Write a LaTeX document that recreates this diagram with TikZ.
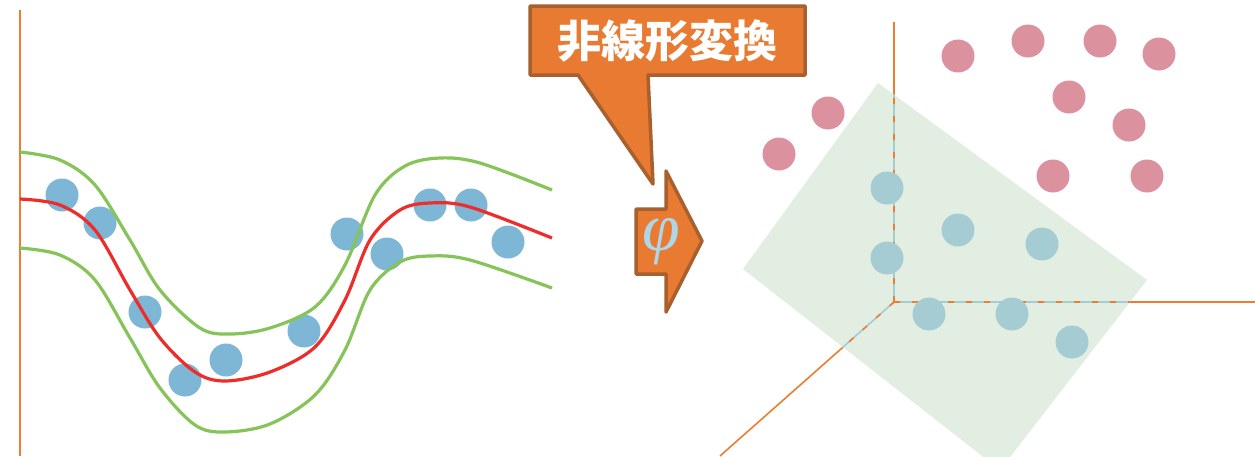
\documentclass[tikz,border=0pt]{standalone}
\usepackage{fontspec}
\newfontfamily\cjk{Noto Sans CJK JP}
\newfontfamily\phifont{Liberation Serif}
\definecolor{axisor}{HTML}{ED7D31}
\definecolor{boxor}{HTML}{E87B31}
\definecolor{boxbr}{HTML}{A8602F}
\definecolor{dotblue}{HTML}{7EB6D6}
\definecolor{dotpink}{HTML}{DB929E}
\definecolor{dotcyan}{HTML}{A5CCD2}
\definecolor{planeg}{HTML}{E3EEE3}
\definecolor{curvegreen}{HTML}{86C45A}
\definecolor{curvered}{HTML}{EE2D2A}
\definecolor{phiblue}{HTML}{AED6EA}
\begin{document}
\begin{tikzpicture}[x=1pt,y=-1pt,
  axisline/.style={draw=axisor, line width=1.6pt},
  bdot/.style={circle, fill=dotblue, minimum size=33pt, inner sep=0pt},
  pdot/.style={circle, fill=dotpink, minimum size=33pt, inner sep=0pt},
  cdot/.style={circle, fill=dotcyan, minimum size=33pt, inner sep=0pt},
  gcurve/.style={draw=curvegreen, line width=3.2pt},
  rcurve/.style={draw=curvered, line width=3.2pt},
  shapeor/.style={fill=boxor, draw=boxbr, line width=3.5pt, line join=round}]
\useasboundingbox (0,0) rectangle (1255,456);
\fill[white] (0,0) rectangle (1255,456);

% ---------- left panel ----------
\coordinate (ltop) at (20,10);
\coordinate (lbot) at (20,456);
\draw[axisline] (ltop) -- (lbot);

\node[bdot] (b1) at (62,195) {};
\node[bdot] (b2) at (100,223) {};
\node[bdot] (b3) at (145,312) {};
\node[bdot] (b4) at (185,380) {};
\node[bdot] (b5) at (226,360) {};
\node[bdot] (b6) at (304,331) {};
\node[bdot] (b7) at (347,234) {};
\node[bdot] (b8) at (387,254) {};
\node[bdot] (b9) at (430,205) {};
\node[bdot] (b10) at (471,205) {};
\node[bdot] (b11) at (508,242) {};

\draw[gcurve] plot[smooth, tension=0.55] coordinates {(20,152) (60,160) (95,185) (130,240) (160,290) (200,328) (230,334) (270,328) (315,307) (345,265) (375,195) (405,166) (440,158) (480,163) (552,190)};
\draw[rcurve] plot[smooth, tension=0.55] coordinates {(20,199) (60,205) (95,230) (130,290) (160,338) (195,372) (225,381) (270,372) (315,347) (345,300) (370,240) (400,210) (430,203) (470,207) (552,238)};
\draw[gcurve] plot[smooth, tension=0.55] coordinates {(20,248) (60,255) (95,280) (130,338) (160,388) (195,425) (225,432) (270,424) (315,395) (345,350) (370,290) (400,262) (430,256) (470,260) (552,288)};

% ---------- callout ----------
\draw[shapeor] (530,6) -- (805,6) -- (805,75) -- (648,75) -- (653,184) -- (578,75) -- (530,75) -- cycle;
\node[text=white, font=\cjk\bfseries\fontsize{44}{44}\selectfont] (title) at (667,41) {非線形変換};

% ---------- block arrow ----------
\draw[shapeor] (636,209) -- (666,209) -- (666,171) -- (702,241) -- (666,312) -- (666,274) -- (636,274) -- cycle;
\node[text=phiblue, font=\phifont\itshape\fontsize{68}{68}\selectfont] (phi) at (661,242) {φ};

% ---------- right panel ----------
\coordinate (o) at (894,302);
\coordinate (zt) at (894,22);
\coordinate (xr) at (1255,302);
\coordinate (yd) at (720,456);
\draw[axisline] (o) -- (zt);
\draw[axisline] (o) -- (xr);
\draw[axisline] (o) -- (yd);

\coordinate (p1) at (878,83);
\coordinate (p2) at (1147,280);
\coordinate (p3) at (1000,470);
\coordinate (p4) at (743,269);
\fill[planeg] (p1) -- (p2) -- (p3) -- (p4) -- cycle;
\begin{scope}
\clip (p1) -- (p2) -- (p3) -- (p4) -- cycle;
\draw[dotcyan, line width=1.6pt] (o) -- (zt) (o) -- (xr) (o) -- (yd);
\draw[axisor, line width=1.6pt, dash pattern=on 6pt off 12pt] (o) -- (zt) (o) -- (xr) (o) -- (yd);
\end{scope}

\node[pdot] (r1) at (958,56) {};
\node[pdot] (r2) at (1028,41) {};
\node[pdot] (r3) at (1100,41) {};
\node[pdot] (r4) at (1159,54) {};
\node[pdot] (r5) at (1069,97) {};
\node[pdot] (r6) at (1129,125) {};
\node[pdot] (r7) at (1053,176) {};
\node[pdot] (r8) at (1147,176) {};
\node[pdot] (r9) at (828,113) {};
\node[pdot] (r10) at (779,154) {};

\node[cdot] (c1) at (887,188) {};
\node[cdot] (c2) at (887,258) {};
\node[cdot] (c3) at (958,230) {};
\node[cdot] (c4) at (1042,244) {};
\node[cdot] (c5) at (929,314) {};
\node[cdot] (c6) at (1012,314) {};
\node[cdot] (c7) at (1072,342) {};
\end{tikzpicture}
\end{document}
